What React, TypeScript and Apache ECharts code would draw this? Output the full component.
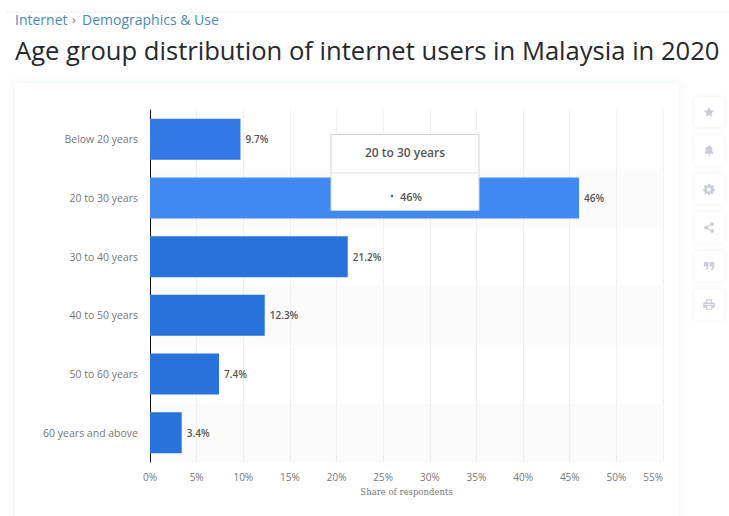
import React, { useEffect, useRef } from "react";
import * as echarts from "echarts";

const categories = ["Below 20 years", "20 to 30 years", "30 to 40 years", "40 to 50 years", "50 to 60 years", "60 years and above"];
const shares = [9.7, 46, 21.2, 12.3, 7.4, 3.4];
const activeIndex = 1;
const breadcrumbParts = ["Internet", "›", "Demographics & Use"];
const headline = "Age group distribution of internet users in Malaysia in 2020";
const axisTitle = "Share of respondents";

const toolbarIcons = [
  { shape: "tb-star", d: "M12 2l3 6.6 7 .8-5.2 4.8 1.4 7L12 17.6 5.8 21.2l1.4-7L2 9.4l7-.8z" },
  { shape: "tb-bell", d: "M12 2c1 0 1.8.8 1.8 1.7C17 4.5 18.5 7 18.5 10v4.5L21 18H3l2.500-3.5V10C5.5 7 7 4.5 10.2 3.7 10.2 2.8 11 2 12 2zM9.5 19.500h5C14.5 21 13.4 22 12 22s-2.5-1-2.5-2.5z" },
  { shape: "tb-gear", d: "M10 2h4l.5 2.800 2 .8L19 4l2.800 2.800L20 9.300l.8 2 2.200.7v4l-2.800.5-.8 2L21 21l-2.800 1-2.500-1.800-2 .8L13 23h-3l-.5-2-2-.8L5 22l-2.800-1L4 18.500l-.8-2L1 16v-4l2.200-.7.8-2L2.200 6.800 5 4l2.500 1.600 2-.8zM11.500 9a4 4 0 1 0 0 8 4 4 0 0 0 0-8z" },
  { shape: "tb-share", d: "M18 2a3.5 3.5 0 1 1-2.600 5.800L9.300 11a3.500 3.500 0 0 1 0 2l6.100 3.200a3.500 3.500 0 1 1-.9 1.700L8.400 14.700a3.500 3.500 0 1 1 0-5.400l6.100-3.200A3.500 3.500 0 0 1 18 2z" },
  { shape: "tb-quote", d: "M2 4h9v9c0 4-2.500 6.500-6 7v-3c1.800-.4 2.800-1.800 3-4H2zM13 4h9v9c0 4-2.500 6.500-6 7v-3c1.800-.4 2.800-1.800 3-4h-6z" },
  { shape: "tb-print", d: "M6 2h12v6h3a2 2 0 0 1 2 2v8h-5v4H6v-4H1v-8a2 2 0 0 1 2-2h3zM8 4v4h8V4zM8 15v5h8v-5zM3 11v1.500h18V11z" },
];

toolbarIcons.forEach((icon) => {
  echarts.graphic.registerShape(icon.shape, echarts.graphic.extendPath(icon.d, {}) as any);
});

const uiFont = '"Open Sans", sans-serif';

export default function App() {
  const ref = useRef<HTMLDivElement>(null);

  useEffect(() => {
    const chart = echarts.init(ref.current!, undefined, { renderer: "svg" });

    const toolbar: any[] = [];
    toolbarIcons.forEach((icon, i) => {
      const top = 97 + i * 38.5;
      toolbar.push({
        type: "rect",
        shape: { x: 694, y: top, width: 30, height: 30, r: 4 },
        style: { fill: "#ffffff", shadowBlur: 5, shadowColor: "rgba(60,60,80,0.06)" },
        z: 1,
      });
      toolbar.push({
        type: icon.shape,
        x: 702.8,
        y: top + 8.8,
        scaleX: 0.52,
        scaleY: 0.52,
        style: { fill: "#c9cbd8" },
        z: 2,
      });
    });

    chart.setOption({
      animation: false,
      backgroundColor: "#ffffff",
      grid: { left: 150, right: 66, top: 110, bottom: 54, containLabel: false },
      xAxis: {
        type: "value",
        min: 0,
        max: 55,
        interval: 5,
        name: axisTitle,
        nameLocation: "middle",
        nameGap: 25,
        nameTextStyle: { fontFamily: "'DejaVu Serif', serif", fontSize: 8.5, color: "#777777" },
        axisLine: { show: false },
        axisTick: { show: false },
        axisLabel: {
          formatter: "{value}%",
          fontFamily: uiFont,
          fontSize: 10,
          color: "#777777",
          margin: 10,
          alignMaxLabel: "right",
        },
        splitLine: { show: true, lineStyle: { color: "#e2e2e2", type: "dotted", width: 1 } },
      },
      yAxis: {
        type: "category",
        inverse: true,
        data: categories,
        axisLine: { show: true, lineStyle: { color: "#111111", width: 1 } },
        axisTick: { show: false },
        axisLabel: { fontFamily: uiFont, fontSize: 10.5, color: "#777777", margin: 12 },
        splitLine: { show: false },
        splitArea: { show: true, areaStyle: { color: ["rgba(255,255,255,0)", "#fbfbfb"] } },
      },
      series: [
        {
          type: "bar",
          barWidth: 41,
          data: shares.map((value, i) => ({
            value,
            itemStyle: { color: i === activeIndex ? "#4089f0" : i === 0 ? "#3279e6" : "#2872dc" },
          })),
          label: {
            show: true,
            position: "right",
            distance: 5,
            formatter: "{c}%",
            fontFamily: uiFont,
            fontSize: 10,
            fontWeight: 600,
            color: "#555555",
          },
          z: 3,
        },
      ],
      graphic: [
        // Page furniture behind the plot
        { type: "line", shape: { x1: 6, y1: 12, x2: 729, y2: 12 }, style: { stroke: "#eeeeee", lineWidth: 1 }, z: -2 },
        {
          type: "rect",
          shape: { x: 15, y: 83, width: 664, height: 450 },
          style: { fill: "#ffffff", shadowBlur: 8, shadowColor: "rgba(70,90,90,0.08)" },
          z: -1,
          silent: true,
        },
        {
          type: "text",
          x: 15,
          y: 12,
          style: { text: breadcrumbParts[0], fontFamily: uiFont, fontSize: 14, fill: "#4a8bb5" },
          z: 5,
        },
        {
          type: "text",
          x: 72,
          y: 12,
          style: { text: breadcrumbParts[1], fontFamily: uiFont, fontSize: 13, fill: "#777777" },
          z: 5,
        },
        {
          type: "text",
          x: 82,
          y: 12,
          style: { text: breadcrumbParts[2], fontFamily: uiFont, fontSize: 14, fill: "#4a8bb5" },
          z: 5,
        },
        {
          type: "text",
          x: 15,
          y: 37,
          style: { text: headline, fontFamily: uiFont, fontSize: 25.6, fontWeight: 500, fill: "#24292e" },
          z: 5,
        },
        ...toolbar,
        // Hover card over the highlighted bar
        {
          type: "group",
          z: 20,
          children: [
            {
              type: "rect",
              shape: { x: 331, y: 134.5, width: 148, height: 76 },
              style: { fill: "#ffffff", stroke: "#cfd3d6", lineWidth: 1 },
              z: 20,
            },
            { type: "line", shape: { x1: 331, y1: 173, x2: 479, y2: 173 }, style: { stroke: "#dddddd", lineWidth: 1 }, z: 21 },
            {
              type: "text",
              x: 405,
              y: 152.5,
              style: { text: categories[activeIndex], align: "center", verticalAlign: "middle", fontFamily: uiFont, fontSize: 12, fontWeight: 600, fill: "#555555" },
              z: 21,
            },
            { type: "circle", shape: { cx: 392, cy: 196, r: 1.3 }, style: { fill: "#2872dc" }, z: 21 },
            {
              type: "text",
              x: 400,
              y: 196,
              style: { text: `${shares[activeIndex]}%`, align: "left", verticalAlign: "middle", fontFamily: uiFont, fontSize: 11, fontWeight: 600, fill: "#555555" },
              z: 21,
            },
          ],
        },
      ],
    });

    return () => chart.dispose();
  }, []);

  return <div ref={ref} style={{ position: "absolute", left: 0, top: 0, width: 729, height: 516 }} />;
}
